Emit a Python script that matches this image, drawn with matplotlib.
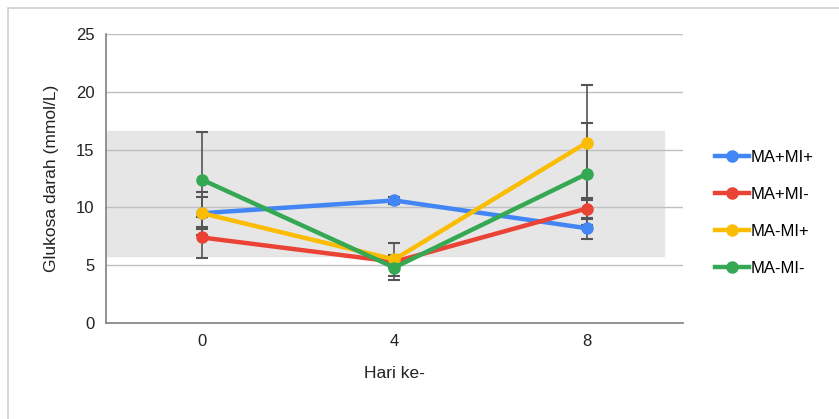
import matplotlib.pyplot as plt
from matplotlib.patches import Rectangle

plt.rcParams['font.family'] = ['Liberation Sans', 'DejaVu Sans']

# days and group means / error (mmol/L)
hari = ["0", "4", "8"]
groups = ["MA+MI+", "MA+MI-", "MA-MI+", "MA-MI-"]
colors = ["#4285F4", "#EA4335", "#FBBC04", "#34A853"]
ma_mi_pos = [9.5, 10.6, 8.2]
ma_mi_neg = [7.4, 5.3, 9.9]
ma_neg_mi_pos = [9.5, 5.5, 15.6]
ma_neg_mi_neg = [12.4, 4.8, 12.9]
err_ma_mi_pos = [1.85, 0.3, 0.9]
err_ma_mi_neg = [1.8, 0.5, 0.9]
err_ma_neg_mi_pos = [1.4, 1.4, 5.0]
err_ma_neg_mi_neg = [4.1, 1.1, 4.4]

# normal range band
band_low, band_high = 5.8, 16.6

values = [ma_mi_pos, ma_mi_neg, ma_neg_mi_pos, ma_neg_mi_neg]
errors = [err_ma_mi_pos, err_ma_mi_neg, err_ma_neg_mi_pos, err_ma_neg_mi_neg]

fig = plt.figure(figsize=(8.39, 4.19), dpi=100)
fig.patches.append(Rectangle((8 / 839, -0.1), 1.2, 1.1 - 8 / 419,
                             transform=fig.transFigure, fill=False,
                             edgecolor="#d0d0d0", linewidth=1.2))
ax = fig.add_axes([0.126, 0.229, 0.688, 0.690])

x = list(range(len(hari)))
ax.axhspan(band_low, band_high, xmin=0.003, xmax=0.967, color="#e6e6e6", zorder=0)

for name, col, vals, errs in zip(groups, colors, values, errors):
    ax.errorbar(x, vals, yerr=errs, fmt="none", ecolor="#555555",
                elinewidth=1.2, capsize=4, capthick=1.5, zorder=2)
for name, col, vals in zip(groups, colors, values):
    ax.plot(x, vals, color=col, linewidth=3.2, marker="o", markersize=8,
            label=name, zorder=3)

ax.set_xlim(-0.5, 2.5)
ax.set_ylim(0, 25)
ax.set_yticks([0, 5, 10, 15, 20, 25])
ax.set_xticks(x)
ax.set_xticklabels(hari)
ax.yaxis.grid(True, color="#c0c0c0", linewidth=1)
ax.set_axisbelow(True)
for side in ["top", "right"]:
    ax.spines[side].set_visible(False)
ax.spines["left"].set_color("#808080")
ax.spines["bottom"].set_color("#808080")
ax.spines["left"].set_linewidth(1.2)
ax.spines["bottom"].set_linewidth(1.2)
ax.tick_params(length=0, labelsize=12, colors="#222222", pad=8)
ax.set_ylabel("Glukosa darah (mmol/L)", fontsize=12.5, color="#222222", labelpad=12)
ax.set_xlabel("Hari ke-", fontsize=12.5, color="#222222", labelpad=12)

ax.legend(loc="center left", bbox_to_anchor=(1.03, 0.382), frameon=False,
          fontsize=12, handlelength=2.0, handletextpad=0.1, labelspacing=1.32)

fig.savefig("out.png", dpi=100)
